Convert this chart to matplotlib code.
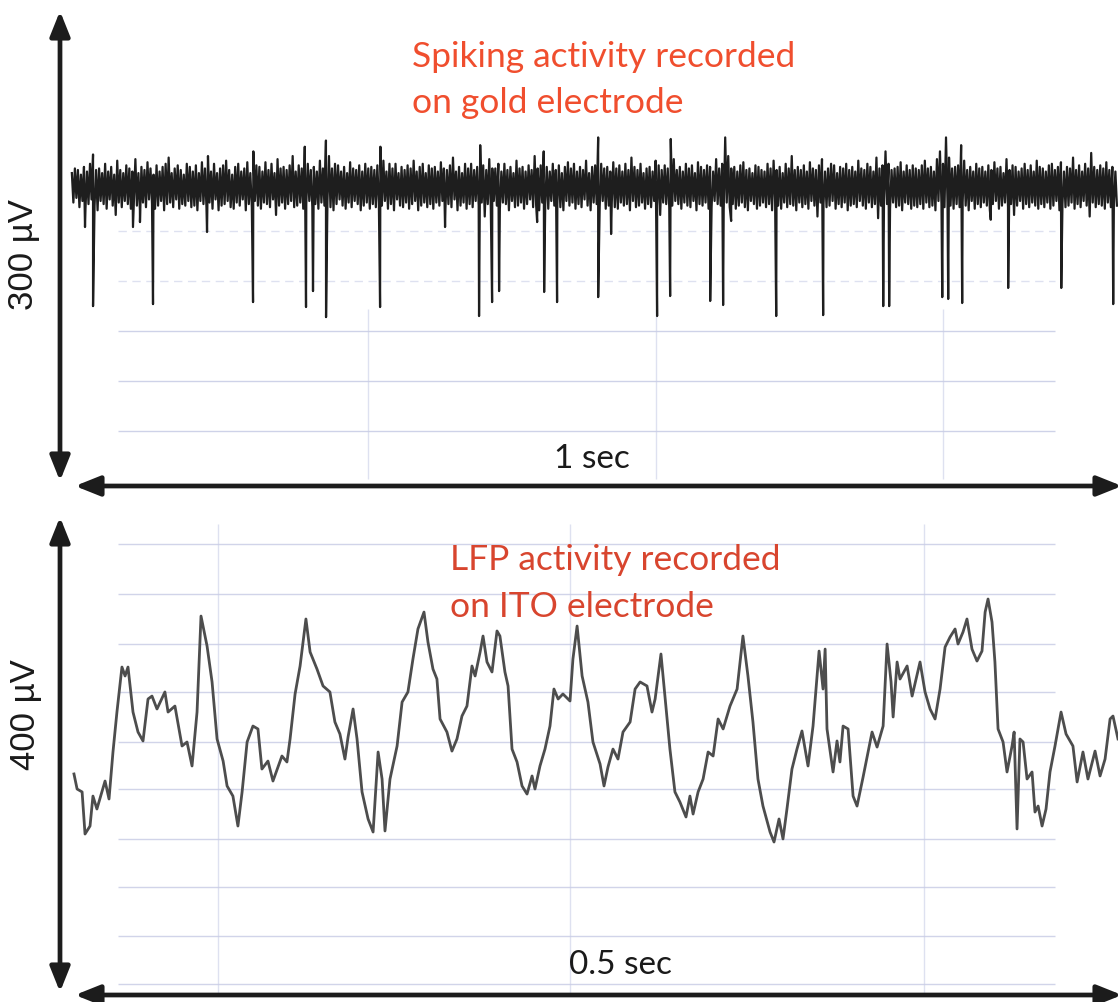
import numpy as np
import matplotlib
matplotlib.use("Agg")
import matplotlib.pyplot as plt

W, H = 1118, 1003

# ---------------- spiking activity (gold electrode) ----------------
# background noise as max/min per display bin (bin width BIN_MS), in µV
BIN_MS = 2.9
BIN_T0_MS = -3.0
noise_max_uv = [
    9, 12, 11, 8, 13, 10, 15, 21, 11, 12, 9, 15, 10, 13, 8, 17, 11, 9, 14, 12,
    10, 18, 9, 13, 11, 16, 12, 8, 14, 10, 13, 15, 19, 9, 12, 14, 11, 8, 15, 13,
    10, 14, 9, 16, 12, 20, 10, 15, 9, 12, 14, 17, 11, 8, 13, 15, 10, 12, 16, 9,
    23, 14, 13, 10, 16, 11, 15, 9, 18, 12, 13, 11, 14, 20, 10, 14, 12, 26, 15, 11,
    13, 10, 17, 12, 30, 20, 12, 15, 14, 10, 13, 9, 16, 12, 11, 14, 10, 15, 12, 13,
    11, 14, 26, 17, 10, 15, 12, 15, 9, 13, 11, 14, 12, 17, 10, 13, 15, 9, 14, 12,
    13, 10, 16, 12, 11, 14, 19, 10, 13, 9, 15, 12, 15, 11, 13, 27, 14, 11, 18, 12,
    12, 15, 10, 15, 11, 13, 9, 17, 12, 13, 10, 14, 11, 20, 12, 14, 23, 13, 10, 15,
    11, 14, 9, 13, 16, 12, 15, 10, 13, 11, 17, 9, 13, 14, 32, 15, 12, 13, 10, 16,
    12, 14, 10, 15, 11, 19, 13, 11, 15, 9, 12, 13, 10, 17, 14, 11, 14, 12, 31, 18,
    11, 13, 10, 15, 12, 14, 9, 16, 13, 11, 14, 13, 10, 18, 12, 15, 32, 20, 12, 13,
    10, 14, 16, 11, 12, 9, 14, 13, 11, 10, 15, 12, 17, 11, 13, 9, 15, 12, 20, 11,
    13, 11, 14, 10, 16, 12, 11, 14, 18, 10, 12, 15, 14, 9, 13, 12, 15, 11, 13, 10,
    17, 12, 11, 15, 13, 10, 19, 12, 14, 23, 15, 11, 12, 13, 16, 10, 14, 11, 14, 12,
    11, 14, 17, 12, 13, 10, 18, 23, 15, 32, 19, 12, 13, 14, 27, 17, 11, 13, 10, 15,
    12, 13, 10, 14, 11, 16, 12, 13, 9, 18, 11, 14, 13, 10, 12, 15, 11, 14, 10, 17,
    13, 12, 10, 14, 15, 11, 13, 16, 10, 13, 12, 19, 11, 14, 10, 15, 12, 22, 13, 11,
    14, 12, 16, 11, 13, 10,
]
noise_min_uv = [
    -10, -7, -13, -9, -14, -11, -8, -12, -15, -9, -11, -14, -8, -12, -18, -10, -13, -9, -11, -14,
    -9, -12, -15, -10, -13, -8, -11, -14, -12, -9, -15, -11, -10, -13, -8, -14, -11, -12, -9, -13,
    -12, -15, -9, -11, -13, -10, -14, -8, -15, -12, -11, -9, -13, -14, -10, -12, -8, -15, -11, -13,
    -9, -12, -14, -10, -11, -13, -8, -18, -12, -10, -14, -11, -9, -13, -12, -10, -14, -11, -9, -13,
    -11, -14, -10, -12, -9, -13, -15, -11, -8, -12, -14, -10, -13, -9, -11, -15, -12, -10, -14, -11,
    -13, -10, -12, -9, -14, -11, -15, -8, -12, -13, -10, -14, -11, -9, -15, -12, -10, -13, -11, -14,
    -10, -12, -9, -14, -11, -13, -8, -15, -12, -10, -14, -11, -13, -9, -12, -10, -19, -11, -13, -9,
    -12, -14, -10, -11, -15, -9, -13, -12, -10, -14, -11, -8, -13, -12, -15, -10, -11, -14, -9, -12,
    -11, -13, -15, -9, -12, -10, -14, -11, -13, -8, -12, -15, -10, -11, -13, -9, -14, -12, -10, -13,
    -14, -10, -12, -11, -15, -9, -13, -12, -10, -14, -11, -13, -9, -12, -18, -10, -11, -13, -12, -9,
    -11, -14, -10, -12, -13, -9, -15, -11, -12, -10, -14, -13, -9, -11, -12, -15, -10, -13, -11, -14,
    -12, -10, -13, -15, -9, -11, -14, -12, -10, -13, -11, -15, -9, -12, -14, -10, -13, -11, -12, -15,
    -10, -13, -11, -14, -9, -12, -19, -10, -11, -13, -12, -9, -14, -11, -13, -10, -15, -12, -11, -13,
    -9, -12, -14, -10, -13, -11, -15, -12, -9, -11, -14, -10, -13, -12, -15, -10, -11, -14, -12, -13,
    -11, -14, -10, -13, -12, -15, -9, -11, -13, -10, -12, -14, -11, -13, -10, -12, -15, -9, -14, -11,
    -13, -10, -12, -15, -11, -9, -14, -12, -10, -13, -11, -18, -12, -9, -14, -11, -13, -10, -12, -14,
    -11, -13, -10, -14, -12, -9, -15, -11, -13, -12, -10, -14, -11, -13, -9, -12, -19, -10, -13, -11,
    -12, -14, -10, -13, -11, -12,
]

# spike events: time (ms) and negative peak (µV)
spike_times_ms = [
    9.6, 17.3, 55.6, 62.3, 74.8, 126.6, 170.7, 221.5, 228.2, 240.7, 292.5,
    354.8, 387.4, 399.9, 406.6, 443.1, 449.8, 462.2, 501.6, 514.0, 558.1,
    570.6, 609.0, 621.4, 629.1, 672.3, 717.3, 774.9, 780.6, 770.0, 831.5,
    837.2, 850.6, 878.0, 894.7, 945.6, 995.4,
]
spike_peaks_uv = [
    -25.8, -76.8, -25.8, -22.6, -75.5, -29.0, -74.2, -77.4, -67.1, -83.9, -77.4,
    -25.8, -83.2, -74.2, -67.1, -22.6, -67.7, -74.2, -71.0, -30.3, -83.2,
    -70.3, -73.5, -76.1, -21.9, -83.2, -82.6, -76.8, -76.8, -20.1, -71.0,
    -72.2, -74.8, -21.1, -65.1, -65.1, -75.5,
]

# ---------------- LFP activity (ITO electrode) ----------------
lfp_times_ms = [
    -0.5, 1.0, 3.4, 4.8, 7.2, 8.6, 10.5, 12.9, 14.4, 16.3, 18.2, 20.1, 22.5, 24.0,
    25.4, 27.8, 30.2, 32.6, 35.0, 36.9, 39.3, 43.1, 44.6, 47.9, 51.3, 53.7, 56.1,
    58.5, 60.4, 63.3, 65.7, 68.1, 71.0, 72.9, 75.7, 78.1, 80.1, 82.5, 85.3, 87.7,
    89.6, 92.5, 94.9, 99.2, 101.6, 103.1, 105.5, 107.9, 110.7, 112.7, 116.0,
    118.9, 122.2, 124.6, 127.0, 129.4, 130.9, 133.3, 135.2, 137.6, 140.5, 142.9,
    145.3, 147.2, 148.6, 151.0, 154.4, 156.8, 159.6, 162.0, 164.4, 167.3, 169.2,
    171.6, 173.5, 175.0, 178.3, 180.7, 183.1, 185.5, 187.9, 190.3, 191.8, 194.2,
    195.6, 197.5, 199.9, 202.3, 203.7, 206.1, 207.6, 209.5, 211.9, 214.3, 216.7,
    219.1, 220.5, 222.9, 225.3, 227.7, 229.6, 231.6, 233.9, 237.3, 238.7, 240.7,
    243.1, 245.9, 248.3, 251.7, 253.6, 255.5, 257.9, 260.3, 262.7, 266.1, 268.5,
    270.9, 274.2, 276.6, 278.1, 280.9, 282.8, 285.2, 287.6, 290.0, 292.9, 294.8,
    296.3, 298.7, 301.1, 303.5, 305.9, 308.3, 310.7, 314.0, 317.4, 320.2, 322.6,
    325.0, 327.4, 329.8, 333.2, 335.1, 337.5, 339.4, 341.3, 343.7, 346.1, 348.5,
    351.4, 353.8, 356.7, 358.6, 359.6, 360.5, 363.4, 365.3, 366.7, 368.2, 370.6,
    373.0, 374.9, 377.8, 382.1, 384.5, 387.4, 389.3, 391.2, 392.2, 394.1, 395.5,
    398.9, 401.3, 405.1, 407.5, 409.9, 412.3, 414.7, 417.1, 419.5, 421.9, 423.3,
    425.7, 427.6, 430.0, 432.4, 434.8, 436.3, 437.7, 439.6, 441.0, 442.5, 444.9,
    446.8, 449.2, 450.2, 451.6, 453.0, 454.5, 456.4, 458.8, 460.2, 461.7, 463.6,
    465.5, 467.4, 469.8, 472.7, 475.1, 478.4, 480.4, 483.2, 485.6, 489.0, 491.4,
    493.8, 496.2, 497.6, 500.0,
]
lfp_uv = [
    -25.5, -38.3, -40.8, -76.6, -69.8, -44.3, -55.3, -40.8, -31.5, -46.8, -6.8,
    27.2, 65.5, 57.9, 65.5, 27.2, 10.2, 2.6, 38.3, 40.8, 29.8, 44.3, 27.2, 32.3,
    -1.7, 1.7, -18.7, 27.2, 108.9, 83.4, 52.8, 4.3, -14.5, -35.7, -44.3, -69.8,
    -40.8, 1.7, 15.3, 12.8, -21.3, -14.5, -31.5, -10.2, -15.3, 4.3, 42.6, 66.4,
    106.4, 78.3, 63.8, 49.4, 44.3, 18.7, 8.5, -12.8, 6.0, 29.8, 4.3, -40.8,
    -63.8, -74.9, -6.8, -29.8, -74.0, -29.8, -1.7, 35.7, 44.3, 72.3, 97.9, 112.3,
    86.8, 63.8, 55.3, 21.3, 10.2, -6.0, 4.3, 23.8, 32.3, 66.4, 57.9, 78.3, 91.9,
    69.8, 61.3, 96.2, 91.9, 61.3, 49.4, -4.3, -15.3, -35.7, -42.6, -27.2, -38.3,
    -18.7, -4.3, 15.3, 46.8, 38.3, 42.6, 36.6, 72.3, 100.4, 57.9, 35.7, 1.7,
    -17.0, -35.7, -19.6, -4.3, -12.8, 10.2, 18.7, 46.8, 52.8, 49.4, 27.2, 38.3,
    76.6, 40.8, -4.3, -40.8, -49.4, -62.1, -44.3, -59.6, -40.8, -29.8, -6.8,
    -10.2, 21.3, 12.8, 32.3, 46.8, 91.9, 57.9, 18.7, -29.8, -52.8, -74.9, -83.4,
    -63.8, -80.8, -55.3, -21.3, -4.3, 11.1, -18.7, 15.3, 79.1, 46.8, 80.8, 12.8,
    -23.8, 2.6, -15.3, 15.3, 12.8, -44.3, -52.8, -28.1, 10.2, -2.6, 15.3, 85.1,
    52.8, 23.0, 69.8, 55.3, 66.4, 40.8, 69.8, 44.3, 29.8, 21.3, 46.8, 82.5, 91.1,
    97.9, 85.1, 95.3, 106.4, 80.8, 70.6, 79.1, 112.3, 123.4, 103.8, 69.8, 12.8,
    1.7, -23.8, -1.7, 10.2, -72.3, 4.3, 1.7, -29.8, -23.8, -57.9, -52.8, -69.8,
    -55.3, -23.8, -1.7, 27.2, 8.5, -1.7, -32.3, -6.8, -29.8, -6.0, -27.2, -12.8,
    21.3, 23.8, 4.3,
]

scale_labels = ["300 µV", "400 µV"]
time_labels = ["1 sec", "0.5 sec"]
title_lines = [["Spiking activity recorded", "on gold electrode"],
               ["LFP activity recorded", "on ITO electrode"]]
title_colors = ["#f04e2e", "#d8452e"]

fig = plt.figure(figsize=(W / 100, H / 100), dpi=100)
fig.patch.set_facecolor("white")

# background grid of the recording screen (pixel coordinates)
bg = fig.add_axes([0, 0, 1, 1], zorder=0)
bg.set_xlim(0, W)
bg.set_ylim(H, 0)
bg.axis("off")
grid_c = "#c9cde6"
bg.hlines([232, 282], 118, 1055, color=grid_c, lw=1.0, alpha=0.6,
          linestyles=(0, (6, 4)))
bg.hlines([332, 382, 432], 118, 1055, color=grid_c, lw=1.0, alpha=0.9)
bg.vlines([368, 656, 943], 310, 480, color=grid_c, lw=1.0, alpha=0.6)
bg.hlines([545, 595, 645, 693, 743, 790, 840, 888, 937, 985], 118, 1055,
          color=grid_c, lw=1.0, alpha=0.85)
bg.vlines([218, 570, 924], 525, 995, color=grid_c, lw=1.0, alpha=0.6)

# top panel: spike train (max/min of each bin, spikes merged in time order)
ax1 = fig.add_axes([0, 1 - 480 / H, 1, 465 / H], zorder=1)
ax1.set_xlim(-71.9, 1000)
ax1.set_ylim(-188.3, 111.6)
ax1.axis("off")
t_bin = BIN_T0_MS + BIN_MS * np.arange(len(noise_max_uv))
t_all = np.concatenate([t_bin, t_bin + BIN_MS / 2, np.asarray(spike_times_ms)])
v_all = np.concatenate([np.asarray(noise_max_uv, float),
                        np.asarray(noise_min_uv, float),
                        np.asarray(spike_peaks_uv)])
order = np.argsort(t_all, kind="stable")
ax1.plot(t_all[order], v_all[order], color="#1e1e1e", lw=1.6)

# bottom panel: LFP
ax2 = fig.add_axes([0, 1 - 990 / H, 1, 470 / H], zorder=1)
ax2.set_xlim(-35.96, 500)
ax2.set_ylim(-208.5, 191.5)
ax2.axis("off")
ax2.plot(lfp_times_ms, lfp_uv, color="#4d4d4d", lw=2.0)

# foreground: scale arrows and labels (pixel coordinates)
fg = fig.add_axes([0, 0, 1, 1], zorder=3)
fg.set_xlim(0, W)
fg.set_ylim(H, 0)
fg.axis("off")
arrow_kw = dict(arrowstyle="<|-|>,head_length=0.75,head_width=0.3",
                lw=3.4, color="#1c1c1c", mutation_scale=20,
                shrinkA=0, shrinkB=0)
for (x0, y0, x1, y1) in [(60, 12, 60, 482), (75, 487, 1122, 487),
                         (60, 518, 60, 993), (75, 996, 1122, 996)]:
    fg.annotate("", xy=(x0, y0), xytext=(x1, y1), arrowprops=arrow_kw,
                annotation_clip=False)

fg.text(23, 255, scale_labels[0], rotation=90, ha="center", va="center",
        fontsize=25, family="Liberation Sans", color="#1a1a1a")
fg.text(25, 715, scale_labels[1], rotation=90, ha="center", va="center",
        fontsize=25, family="Liberation Sans", color="#1a1a1a")
fg.text(592, 468, time_labels[0], ha="center", va="baseline",
        fontsize=24, family="Lato", color="#1a1a1a")
fg.text(620, 974, time_labels[1], ha="center", va="baseline",
        fontsize=24, family="Lato", color="#1a1a1a")

for (x, ys), lines, col in zip([(412, (67, 113)), (450, (570, 617))],
                               title_lines, title_colors):
    for y, s in zip(ys, lines):
        fg.text(x, y, s, ha="left", va="baseline", fontsize=25.5,
                family="Lato", color=col)

fig.savefig("out.png", dpi=100, facecolor="white")
